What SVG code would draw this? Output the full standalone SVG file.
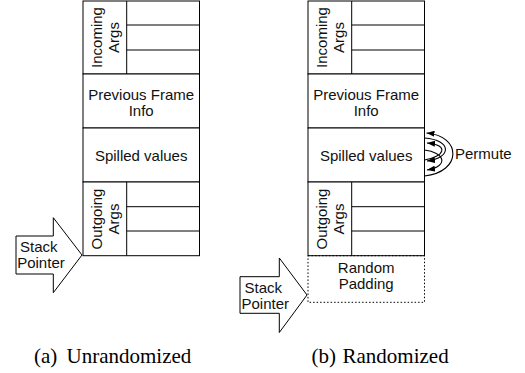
<svg xmlns="http://www.w3.org/2000/svg" width="525" height="373" viewBox="0 0 525 373">
<defs>
<style>
.box{fill:#fff;stroke:#000;stroke-width:1}
.ln{stroke:#000;stroke-width:1;fill:none}
.dot{fill:none;stroke:#000;stroke-width:1;stroke-dasharray:1.5,2}
.t{font-family:"Liberation Sans",Arial,sans-serif;font-size:15px;fill:#111;text-anchor:middle}
.tl{font-family:"Liberation Sans",Arial,sans-serif;font-size:15px;fill:#111}
.cap{font-family:"Liberation Serif","Times New Roman",serif;font-size:21px;fill:#000}
.arr{fill:#fff;stroke:#000;stroke-width:1;stroke-linejoin:miter}
.conn{fill:none;stroke:#000;stroke-width:1.1}
</style>
<marker id="ah" viewBox="0 0 8 6" refX="8" refY="3" markerWidth="8" markerHeight="6" markerUnits="userSpaceOnUse" orient="auto-start-reverse">
<path d="M0,0 L8,3 L0,6 z" fill="#000"/>
</marker>
</defs>

<!-- Stack (a) -->
<g id="incoming-a">
<rect class="box" x="83" y="1" width="116.5" height="73"/>
<line class="ln" x1="126.7" y1="1" x2="126.7" y2="74"/>
<line class="ln" x1="126.7" y1="25" x2="199.5" y2="25"/>
<line class="ln" x1="126.7" y1="50" x2="199.5" y2="50"/>
<text class="t" transform="translate(101.5,37.5) rotate(-90)">Incoming</text>
<text class="t" transform="translate(119,37.5) rotate(-90)">Args</text>
</g>
<g id="prevframe-a">
<rect class="box" x="83" y="74" width="116.5" height="54"/>
<text class="t" x="141.2" y="99.5">Previous Frame</text>
<text class="t" x="141.2" y="116">Info</text>
</g>
<g id="spilled-a">
<rect class="box" x="83" y="128" width="116.5" height="54"/>
<text class="t" x="141.2" y="160.5">Spilled values</text>
</g>
<g id="outgoing-a">
<rect class="box" x="83" y="182" width="116.5" height="73.7"/>
<line class="ln" x1="126.7" y1="182" x2="126.7" y2="255.7"/>
<line class="ln" x1="126.7" y1="206.7" x2="199.5" y2="206.7"/>
<line class="ln" x1="126.7" y1="231" x2="199.5" y2="231"/>
<text class="t" transform="translate(101.5,219) rotate(-90)">Outgoing</text>
<text class="t" transform="translate(119,219) rotate(-90)">Args</text>
</g>
<g id="sp-a">
<path class="arr" d="M16,236 L53.3,236 L53.3,217.7 L82,255 L53.3,292.7 L53.3,274 L16,274 Z"/>
<text class="tl" x="20" y="252">Stack</text>
<text class="tl" x="17.2" y="268">Pointer</text>
</g>

<!-- Stack (b) -->
<g id="incoming-b">
<rect class="box" x="308" y="1" width="116.5" height="73"/>
<line class="ln" x1="351.7" y1="1" x2="351.7" y2="74"/>
<line class="ln" x1="351.7" y1="25" x2="424.5" y2="25"/>
<line class="ln" x1="351.7" y1="50" x2="424.5" y2="50"/>
<text class="t" transform="translate(326.5,37.5) rotate(-90)">Incoming</text>
<text class="t" transform="translate(344,37.5) rotate(-90)">Args</text>
</g>
<g id="prevframe-b">
<rect class="box" x="308" y="74" width="116.5" height="54"/>
<text class="t" x="366.2" y="99.5">Previous Frame</text>
<text class="t" x="366.2" y="116">Info</text>
</g>
<g id="spilled-b">
<rect class="box" x="308" y="128" width="116.5" height="54"/>
<text class="t" x="366.2" y="160.5">Spilled values</text>
</g>
<g id="outgoing-b">
<rect class="box" x="308" y="182" width="116.5" height="73.7"/>
<line class="ln" x1="351.7" y1="182" x2="351.7" y2="255.7"/>
<line class="ln" x1="351.7" y1="206.7" x2="424.5" y2="206.7"/>
<line class="ln" x1="351.7" y1="231" x2="424.5" y2="231"/>
<text class="t" transform="translate(326.5,219) rotate(-90)">Outgoing</text>
<text class="t" transform="translate(344,219) rotate(-90)">Args</text>
</g>
<g id="padding-b">
<rect class="dot" x="308" y="255.7" width="116.5" height="46.6"/>
<text class="t" x="366.2" y="272.5">Random</text>
<text class="t" x="366.2" y="288.5">Padding</text>
</g>
<g id="sp-b">
<path class="arr" d="M240,276.7 L279.3,276.7 L279.3,258 L307,295 L279.3,332.5 L279.3,313.3 L240,313.3 Z"/>
<text class="tl" x="244.5" y="293">Stack</text>
<text class="tl" x="241.5" y="309">Pointer</text>
</g>
<g id="permute-label">
<text class="tl" x="455" y="158.5">Permute</text>
</g>

<!-- Connectors -->
<g id="connectors">
<path class="conn" d="M424.5,176 C462,172 462,136 426.5,133" marker-end="url(#ah)"/>
<path class="conn" d="M424.5,138 C452,140 452,158 427,161" marker-end="url(#ah)"/>
<path class="conn" d="M424.5,150 C444,152 450,166 427,170" marker-end="url(#ah)"/>
<path class="conn" d="M424.5,160 C444,157 450,145 427,143" marker-end="url(#ah)"/>
</g>

<!-- Captions -->
<text class="cap" x="34" y="363">(a)</text>
<text class="cap" x="66.5" y="363">Unrandomized</text>
<text class="cap" x="311.5" y="363">(b)</text>
<text class="cap" x="342.5" y="363">Randomized</text>
</svg>
